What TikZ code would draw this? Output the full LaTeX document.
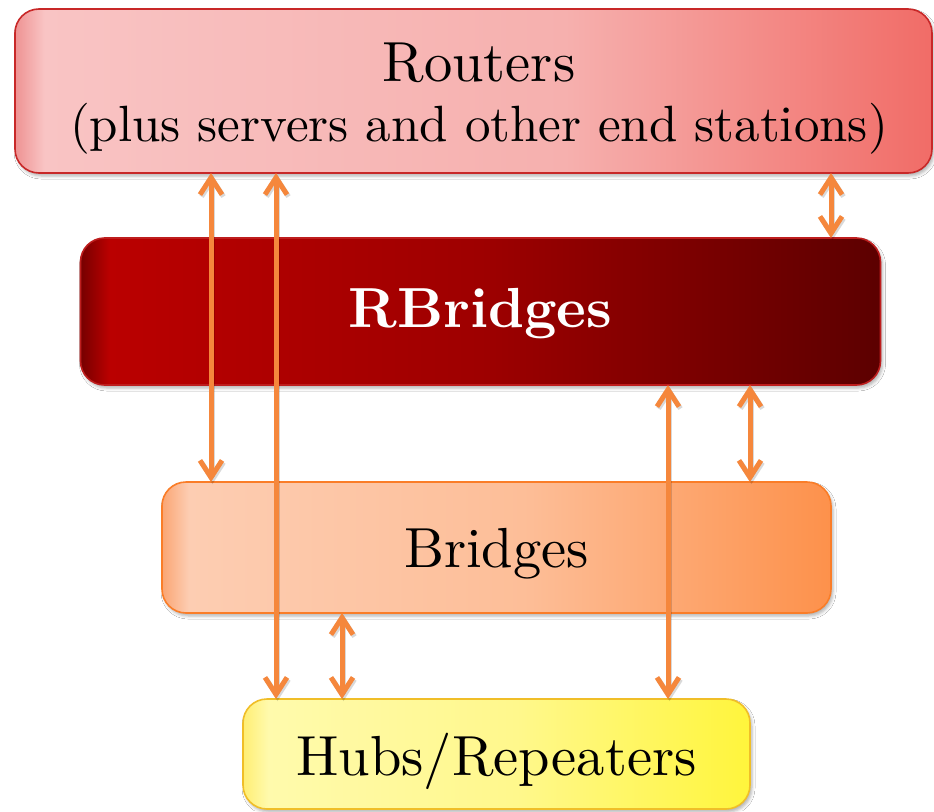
\documentclass[tikz,border=0pt]{standalone}
\usepackage{fontspec}
\setmainfont{lmroman10-regular.otf}[BoldFont=lmroman10-bold.otf]
\usetikzlibrary{arrows.meta,shadows.blur}
\definecolor{rtEdge}{RGB}{238,146,146}
\definecolor{rtLeft}{RGB}{249,196,196}
\definecolor{rtMid}{RGB}{246,176,174}
\definecolor{rtRight}{RGB}{241,108,103}
\definecolor{rtLine}{RGB}{200,40,40}
\definecolor{rbEdge}{RGB}{118,0,0}
\definecolor{rbLeft}{RGB}{186,0,0}
\definecolor{rbMid}{RGB}{158,0,0}
\definecolor{rbRight}{RGB}{92,0,0}
\definecolor{rbLine}{RGB}{190,30,30}
\definecolor{brEdge}{RGB}{250,165,115}
\definecolor{brLeft}{RGB}{253,205,178}
\definecolor{brMid}{RGB}{253,190,152}
\definecolor{brRight}{RGB}{253,145,75}
\definecolor{brLine}{RGB}{250,125,40}
\definecolor{hbEdge}{RGB}{255,238,115}
\definecolor{hbLeft}{RGB}{255,250,172}
\definecolor{hbMid}{RGB}{255,248,140}
\definecolor{hbRight}{RGB}{255,245,60}
\definecolor{hbLine}{RGB}{240,190,40}
\definecolor{arrC}{RGB}{245,135,60}
\pgfdeclarehorizontalshading{rtShade}{100bp}{color(0bp)=(rtEdge); color(25bp)=(rtEdge); color(26.6bp)=(rtLeft); color(55bp)=(rtMid); color(75bp)=(rtRight); color(100bp)=(rtRight)}
\pgfdeclarehorizontalshading{rbShade}{100bp}{color(0bp)=(rbEdge); color(25bp)=(rbEdge); color(26.8bp)=(rbLeft); color(50bp)=(rbMid); color(75bp)=(rbRight); color(100bp)=(rbRight)}
\pgfdeclarehorizontalshading{brShade}{100bp}{color(0bp)=(brEdge); color(25bp)=(brEdge); color(27bp)=(brLeft); color(52bp)=(brMid); color(75bp)=(brRight); color(100bp)=(brRight)}
\pgfdeclarehorizontalshading{hbShade}{100bp}{color(0bp)=(hbEdge); color(25bp)=(hbEdge); color(27.5bp)=(hbLeft); color(52bp)=(hbMid); color(75bp)=(hbRight); color(100bp)=(hbRight)}
\tikzset{
  box/.style={rectangle, rounded corners=24pt, line width=1.6pt, inner sep=0pt, outer sep=0pt,
    align=center, font=\fontsize{56.5}{60}\selectfont,
    blur shadow={shadow xshift=2pt, shadow yshift=-3pt, shadow blur radius=3pt, shadow opacity=30}},
  arr/.style={draw=arrC, line width=5pt, {Straight Barb[length=17pt,width=22pt]}-{Straight Barb[length=17pt,width=22pt]}},
  arrsh/.style={arr, draw=black, opacity=0.15, transform canvas={shift={(1.5pt,-2pt)}}}
}
\newcommand\darrow[2]{\draw[arrsh] #1 -- #2; \draw[arr] #1 -- #2;}
\begin{document}
\begin{tikzpicture}[x=1pt,y=-1pt]
\fill[white] (0,0) rectangle (934,811);
\useasboundingbox (0,0) rectangle (934,811);
\node[box, draw=rtLine, shading=rtShade, minimum width=917pt, minimum height=164pt,
  text height=101pt, text depth=0pt] (routers) at (473.5,91)
  {\hspace*{11pt}Routers\\\fontsize{51}{59}\selectfont\hspace*{11pt}(plus servers and other end stations)};
\node[box, draw=rbLine, shading=rbShade, minimum width=800pt, minimum height=147pt, text=white,
  text height=31pt, text depth=0pt] (rbridges) at (480.5,311.5) {\bfseries RBridges};
\node[box, draw=brLine, shading=brShade, minimum width=669pt, minimum height=131pt,
  text height=39pt, text depth=0pt] (bridges) at (496.5,547.5) {Bridges};
\node[box, draw=hbLine, shading=hbShade, minimum width=507pt, minimum height=110pt,
  text height=42pt, text depth=0pt] (hubs) at (496.5,754) {Hubs/Repeaters};
\coordinate (ax1) at (211,0);
\coordinate (ax2) at (276,0);
\coordinate (ax3) at (831,0);
\coordinate (ax4) at (668,0);
\coordinate (ax5) at (750,0);
\coordinate (ax6) at (342,0);
\darrow{(routers.south -| ax1)}{(bridges.north -| ax1)}
\darrow{(routers.south -| ax2)}{(hubs.north -| ax2)}
\darrow{(routers.south -| ax3)}{(rbridges.north -| ax3)}
\darrow{(rbridges.south -| ax4)}{(hubs.north -| ax4)}
\darrow{(rbridges.south -| ax5)}{(bridges.north -| ax5)}
\darrow{(bridges.south -| ax6)}{(hubs.north -| ax6)}
\end{tikzpicture}
\end{document}
